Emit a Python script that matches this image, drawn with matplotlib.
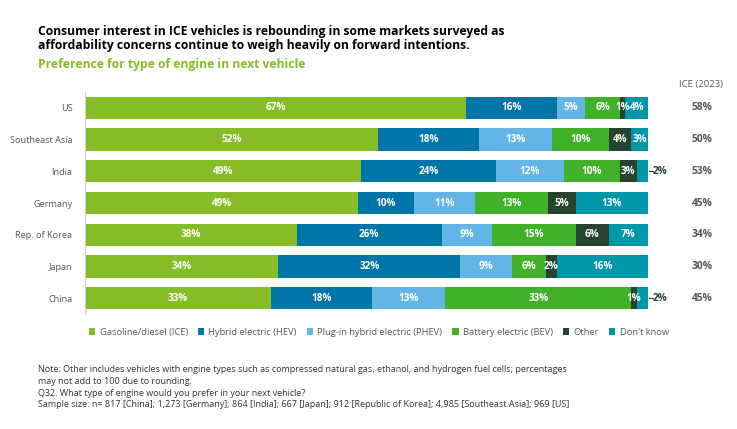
import numpy as np
import matplotlib.pyplot as plt

plt.rcParams['font.family'] = ['Open Sans', 'DejaVu Sans']

# Data
countries = ["US", "Southeast Asia", "India", "Germany", "Rep. of Korea", "Japan", "China"]
ice = [67, 52, 49, 49, 38, 34, 33]
hev = [16, 18, 24, 10, 26, 32, 18]
phev = [5, 13, 12, 11, 9, 9, 13]
bev = [6, 10, 10, 13, 15, 6, 33]
other = [1, 4, 3, 5, 6, 2, 1]
dont_know = [4, 3, 2, 13, 7, 16, 2]
ice_2023 = [58, 50, 53, 45, 34, 30, 45]

series_names = ["Gasoline/diesel (ICE)", "Hybrid electric (HEV)", "Plug-in hybrid electric (PHEV)",
                "Battery electric (BEV)", "Other", "Don't know"]
colors = ["#86bc25", "#0076a8", "#62b5e5", "#43b02a", "#26432f", "#0097a9"]

data = np.array([ice, hev, phev, bev, other, dont_know], dtype=float)
# bars in the original are stretched to the same total width
widths = data / data.sum(axis=0) * 100

fig = plt.figure(figsize=(7.37, 4.29), dpi=100)
ax = fig.add_axes([0.1153, 0.268, 0.7640, 0.5175])

y = np.arange(len(countries))
left = np.zeros(len(countries))
for i, name in enumerate(series_names):
    ax.barh(y, widths[i], left=left, height=0.7, color=colors[i], label=name)
    for j in range(len(countries)):
        val = int(data[i, j])
        cx = left[j] + widths[i, j] / 2
        if i == 5 and val <= 2:
            # small "don't know" values labelled outside with a leader line
            ax.plot([100.1, 100.9], [y[j], y[j]], color="#26432f", lw=0.8, clip_on=False)
            ax.text(100.9, y[j], f"{val}%", ha="left", va="center", fontsize=7.2,
                    fontweight="bold", color="#26432f")
        else:
            ax.text(cx, y[j], f"{val}%", ha="center", va="center", fontsize=7.2,
                    fontweight="bold", color="white")
    left += widths[i]

ax.set_ylim(len(countries) - 0.5, -0.5)
ax.set_xlim(0, 100)
ax.set_yticks(y)
ax.set_yticklabels(countries, fontsize=6.6, color="#53565a")
ax.tick_params(axis="y", length=0, pad=9)
ax.set_xticks([])
for s in ["top", "right", "bottom"]:
    ax.spines[s].set_visible(False)
ax.spines["left"].set_color("#d0d0ce")
ax.spines["left"].set_linewidth(0.8)

# ICE (2023) column
ax.text(109.4, -0.73, "ICE (2023)", ha="center", va="center", fontsize=6.8, color="#53565a")
for j, v in enumerate(ice_2023):
    ax.text(109.6, y[j], f"{v}%", ha="center", va="center", fontsize=7.4,
            fontweight="bold", color="#53565a")

# legend
handles, labels = ax.get_legend_handles_labels()
leg = fig.legend(handles, labels, loc="center left", bbox_to_anchor=(0.109, 0.226), ncol=6,
                 frameon=False, fontsize=6.75, handlelength=0.7, handleheight=0.7,
                 handletextpad=0.45, columnspacing=1.05, labelcolor="#53565a")

fig.text(0.052, 0.941, "Consumer interest in ICE vehicles is rebounding in some markets surveyed as\n"
         "affordability concerns continue to weigh heavily on forward intentions.",
         ha="left", va="top", fontsize=8.7, fontweight="bold", color="black", linespacing=1.05)
fig.text(0.052, 0.85, "Preference for type of engine in next vehicle", ha="left", va="center",
         fontsize=8.7, fontweight="bold", color="#86bc25")

notes = ("Note: Other includes vehicles with engine types such as compressed natural gas, ethanol, and hydrogen fuel cells; percentages\n"
         "may not add to 100 due to rounding.\n"
         "Q32. What type of engine would you prefer in your next vehicle?\n"
         "Sample size: n= 817 [China]; 1,273 [Germany]; 864 [India]; 667 [Japan]; 912 [Republic of Korea]; 4,985 [Southeast Asia]; 969 [US]")
fig.text(0.052, 0.15, notes, ha="left", va="top", fontsize=6.45, color="#333333", linespacing=1.42)

fig.savefig("out.png", dpi=100)
